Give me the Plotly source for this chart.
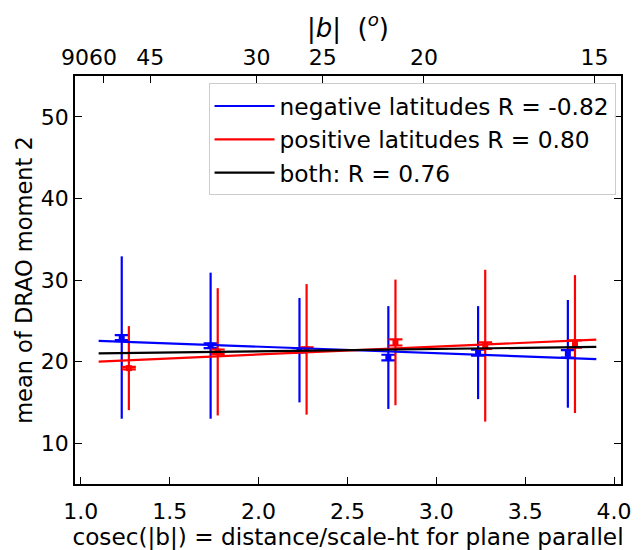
import numpy as np
import plotly.graph_objects as go

# ---- data ----
neg_x = [1.23, 1.73, 2.23, 2.73, 3.235, 3.74]
neg_mean = [22.95, 21.95, 21.4, 20.5, 21.1, 20.95]
neg_std = [9.95, 8.95, 6.4, 6.3, 5.7, 6.6]
neg_sem = [0.3, 0.3, 0.26, 0.34, 0.36, 0.45]

pos_x = [1.27, 1.77, 2.27, 2.77, 3.275, 3.78]
pos_mean = [19.2, 21.2, 21.5, 22.35, 21.95, 22.15]
pos_std = [5.15, 7.8, 8.0, 7.7, 9.3, 8.45]
pos_sem = [0.15, 0.28, 0.25, 0.38, 0.4, 0.45]

fit_x = [1.1, 3.9]
fit_neg = (23.43, -0.80)   # intercept, slope
fit_pos = (18.94, 0.964)
fit_both = (20.69, 0.286)

labels = ["negative latitudes R = -0.82", "positive latitudes R = 0.80", "both: R = 0.76"]

top_deg = [90, 60, 45, 30, 25, 20, 15]
y_ticks = [10, 20, 30, 40, 50]
x_ticks = [1.0, 1.5, 2.0, 2.5, 3.0, 3.5, 4.0]

FONT = "DejaVu Sans"
TICK_FS = 22
fig = go.Figure()

for xs, ms, sd, se, col in [(neg_x, neg_mean, neg_std, neg_sem, "blue"),
                             (pos_x, pos_mean, pos_std, pos_sem, "red")]:
    fig.add_trace(go.Scatter(x=xs, y=ms, mode="markers", showlegend=False,
                             marker=dict(size=1, color=col, opacity=0),
                             error_y=dict(type="data", array=sd, visible=True,
                                          color=col, thickness=2.2, width=0)))
    fig.add_trace(go.Scatter(x=xs, y=ms, mode="markers", showlegend=False,
                             marker=dict(symbol="square", size=6, color=col),
                             error_y=dict(type="data", array=se, visible=True,
                                          color=col, thickness=2.2, width=7)))

fx = np.array(fit_x)
for (a, b), col, lab in [(fit_neg, "blue", labels[0]),
                         (fit_pos, "red", labels[1]),
                         (fit_both, "black", labels[2])]:
    fig.add_trace(go.Scatter(x=fx, y=a + b * fx, mode="lines", name=lab,
                             line=dict(color=col, width=2.2)))

# invisible trace on top axis
top_vals = [1.0 / np.sin(np.radians(d)) for d in top_deg]
fig.add_trace(go.Scatter(x=top_vals, y=[30] * len(top_vals), xaxis="x2",
                         mode="markers", marker=dict(opacity=0), showlegend=False,
                         hoverinfo="skip"))

axis_common = dict(showline=True, linecolor="black", linewidth=1.6,
                   ticks="inside", ticklen=7, tickwidth=1.4, tickcolor="black",
                   showgrid=False, zeroline=False, tickangle=0,
                   tickfont=dict(family=FONT, size=TICK_FS, color="black"))

fig.update_layout(
    width=641, height=550,
    margin=dict(l=75, r=10, t=76, b=60),
    plot_bgcolor="white", paper_bgcolor="white",
    font=dict(family=FONT, size=22, color="black"),
    xaxis=dict(range=[0.967, 4.039], tickvals=x_ticks,
               ticktext=[f"{v:.1f}" for v in x_ticks], ticklabelstandoff=7,
               title=dict(text="cosec(|b|) = distance/scale-ht for plane parallel",
                          font=dict(family=FONT, size=23.2), standoff=0),
               **axis_common),
    xaxis2=dict(overlaying="x", side="top", anchor="y", range=[1.0, 4.01],
                tickvals=top_vals, ticktext=[str(d) for d in top_deg],
                title=dict(text="|<i>b</i>|  (<sup><i>o</i></sup>)",
                           font=dict(family=FONT, size=26), standoff=0),
                **axis_common),
    yaxis=dict(range=[5, 55], tickvals=y_ticks, mirror="ticks",
               title=dict(text="mean of DRAO moment 2",
                          font=dict(family=FONT, size=22.5), standoff=2),
               **axis_common),
    legend=dict(x=0.99, y=0.982, xanchor="right", yanchor="top",
                bgcolor="rgba(255,255,255,0.8)", bordercolor="#cccccc",
                borderwidth=1, font=dict(family=FONT, size=23.3),
                tracegroupgap=0, itemwidth=60),
    showlegend=True,
)

fig.write_html("out.html")
